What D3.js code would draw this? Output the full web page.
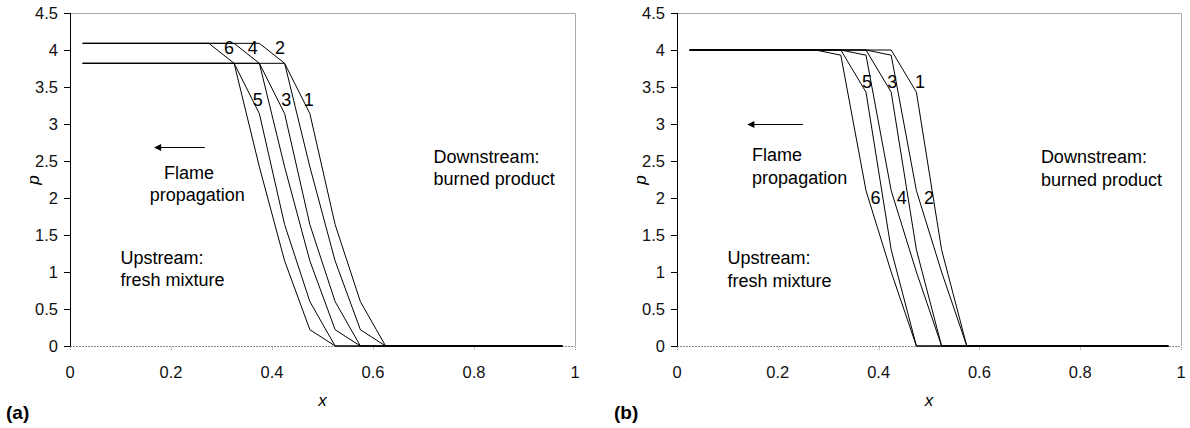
<!DOCTYPE html>
<html>
<head>
<meta charset="utf-8">
<script src="https://cdn.jsdelivr.net/npm/d3@7"></script>
<style>
  body { margin: 0; background: #fff; }
  svg { display: block; font-family: "Liberation Sans", Arial, sans-serif; }
</style>
</head>
<body>
<svg id="chart" width="1190" height="428"></svg>
<script>
const xTicks = [0, 0.2, 0.4, 0.6, 0.8, 1];
const yTicks = [0, 0.5, 1, 1.5, 2, 2.5, 3, 3.5, 4, 4.5];

// (a) pressure profiles, [x, p] at the kinks
const a1 = [[0.025, 3.82], [0.425, 3.82], [0.475, 3.14], [0.525, 1.64], [0.575, 0.60], [0.625, 0], [0.975, 0]];
const a2 = [[0.025, 4.09], [0.375, 4.09], [0.425, 3.82], [0.475, 2.42], [0.525, 1.15], [0.575, 0.22], [0.625, 0], [0.975, 0]];
const a3 = [[0.025, 3.82], [0.375, 3.82], [0.425, 3.14], [0.475, 1.64], [0.525, 0.60], [0.575, 0], [0.975, 0]];
const a4 = [[0.025, 4.09], [0.325, 4.09], [0.375, 3.82], [0.425, 2.42], [0.475, 1.15], [0.525, 0.22], [0.575, 0], [0.975, 0]];
const a5 = [[0.025, 3.82], [0.325, 3.82], [0.375, 3.14], [0.425, 1.64], [0.475, 0.60], [0.525, 0], [0.975, 0]];
const a6 = [[0.025, 4.09], [0.275, 4.09], [0.325, 3.82], [0.375, 2.42], [0.425, 1.15], [0.475, 0.22], [0.525, 0], [0.975, 0]];

// (b)
const b1 = [[0.025, 4], [0.425, 4], [0.475, 3.43], [0.525, 1.3], [0.575, 0], [0.975, 0]];
const b2 = [[0.025, 4], [0.375, 4], [0.425, 3.93], [0.475, 2.1], [0.525, 1.0], [0.575, 0], [0.975, 0]];
const b3 = [[0.025, 4], [0.375, 4], [0.425, 3.43], [0.475, 1.3], [0.525, 0], [0.975, 0]];
const b4 = [[0.025, 4], [0.325, 4], [0.375, 3.93], [0.425, 2.1], [0.475, 1.0], [0.525, 0], [0.975, 0]];
const b5 = [[0.025, 4], [0.325, 4], [0.375, 3.43], [0.425, 1.3], [0.475, 0], [0.975, 0]];
const b6 = [[0.025, 4], [0.275, 4], [0.325, 3.93], [0.375, 2.1], [0.425, 1.0], [0.475, 0], [0.975, 0]];

// curve numbers: [text, x, p]
const labelsA = [["6", 0.315, 4.03], ["4", 0.362, 4.03], ["2", 0.416, 4.03],
                 ["5", 0.372, 3.32], ["3", 0.428, 3.32], ["1", 0.473, 3.32]];
const labelsB = [["5", 0.377, 3.57], ["3", 0.427, 3.57], ["1", 0.482, 3.57],
                 ["6", 0.394, 2.0], ["4", 0.446, 2.0], ["2", 0.5, 2.0]];

// annotations: [text, x, p]
const notesA = [["Flame", 0.186, 2.34], ["propagation", 0.158, 2.04],
                ["Downstream:", 0.72, 2.55], ["burned product", 0.72, 2.26],
                ["Upstream:", 0.1, 1.19], ["fresh mixture", 0.1, 0.89]];
const notesB = [["Flame", 0.149, 2.58], ["propagation", 0.149, 2.27],
                ["Downstream:", 0.722, 2.55], ["burned product", 0.722, 2.24],
                ["Upstream:", 0.1, 1.19], ["fresh mixture", 0.1, 0.88]];
const arrowA = [0.267, 0.168, 2.69];
const arrowB = [0.25, 0.141, 3.0];

const svg = d3.select('#chart');

svg.append('defs').append('marker')
  .attr('id', 'head')
  .attr('viewBox', '0 0 10 10')
  .attr('refX', 9).attr('refY', 5)
  .attr('markerWidth', 9).attr('markerHeight', 7)
  .attr('markerUnits', 'userSpaceOnUse')
  .attr('orient', 'auto')
  .append('path')
  .attr('d', 'M0,0L10,5L0,10z')
  .attr('fill', '#000');

function drawPanel(x0, x1, curves, labels, notes, arrow, tag, tagX) {
  const x = d3.scaleLinear().domain([0, 1]).range([x0, x1]);
  const y = d3.scaleLinear().domain([0, 4.5]).range([346, 13]);
  const g = svg.append('g');

  // plot frame (top / right), light grey
  g.append('path')
    .attr('d', `M${x0 + 0.5},13.5H${x1 + 0.5}V346`)
    .attr('fill', 'none')
    .attr('stroke', '#a8a8a8');

  // dotted x axis at p = 0
  g.append('line')
    .attr('x1', x0).attr('x2', x1)
    .attr('y1', 346.5).attr('y2', 346.5)
    .attr('stroke', '#8a8a8a')
    .attr('stroke-dasharray', '2,1');

  g.selectAll('.xt')
    .data(xTicks)
    .join('line')
    .attr('x1', d => Math.round(x(d)) + 0.5).attr('x2', d => Math.round(x(d)) + 0.5)
    .attr('y1', 347).attr('y2', 350)
    .attr('stroke', '#999')
    .attr('stroke-dasharray', '1,1');

  g.selectAll('.xl')
    .data(xTicks)
    .join('text')
    .attr('x', d => x(d))
    .attr('y', 378)
    .attr('text-anchor', 'middle')
    .attr('font-size', 16.5)
    .attr('fill', '#111')
    .text(d3.format('~g'));

  // y axis
  const yAxis = g.append('g')
    .attr('transform', `translate(${x0},0)`)
    .call(d3.axisLeft(y).tickValues(yTicks).tickFormat(d3.format('~g')).tickSize(6).tickPadding(6));
  yAxis.select('.domain').attr('stroke', '#000').attr('d', 'M0.5,13V346.5');
  yAxis.selectAll('.tick line').attr('stroke', '#000');
  yAxis.selectAll('.tick text')
    .attr('font-size', 16.5)
    .attr('font-family', '"Liberation Sans", Arial, sans-serif')
    .attr('fill', '#111');

  // profiles
  const line = d3.line().x(d => x(d[0])).y(d => y(d[1]));
  g.selectAll('.curve')
    .data(curves)
    .join('path')
    .attr('d', line)
    .attr('fill', 'none')
    .attr('stroke', '#000')
    .attr('stroke-width', 1);

  g.selectAll('.num')
    .data(labels)
    .join('text')
    .attr('x', d => x(d[1]))
    .attr('y', d => y(d[2]))
    .attr('text-anchor', 'middle')
    .attr('dominant-baseline', 'central')
    .attr('font-size', 18)
    .text(d => d[0]);

  g.selectAll('.note')
    .data(notes)
    .join('text')
    .attr('x', d => x(d[1]))
    .attr('y', d => y(d[2]))
    .attr('dominant-baseline', 'central')
    .attr('font-size', 18)
    .text(d => d[0]);

  g.append('line')
    .attr('x1', x(arrow[0])).attr('x2', x(arrow[1]))
    .attr('y1', Math.round(y(arrow[2])) + 0.5).attr('y2', Math.round(y(arrow[2])) + 0.5)
    .attr('stroke', '#000')
    .attr('marker-end', 'url(#head)');

  // axis titles
  g.append('text')
    .attr('x', (x0 + x1) / 2).attr('y', 400)
    .attr('text-anchor', 'middle')
    .attr('dominant-baseline', 'central')
    .attr('font-size', 17)
    .attr('font-style', 'italic')
    .text('x');
  g.append('text')
    .attr('transform', `translate(${x0 - 37},180) rotate(-90)`)
    .attr('text-anchor', 'middle')
    .attr('dominant-baseline', 'central')
    .attr('font-size', 17)
    .attr('font-style', 'italic')
    .text('p');

  g.append('text')
    .attr('x', tagX).attr('y', 419)
    .attr('font-size', 19)
    .attr('font-weight', 'bold')
    .text(tag);
}

drawPanel(70, 575, [a1, a2, a3, a4, a5, a6], labelsA, notesA, arrowA, '(a)', 6);
drawPanel(677, 1181, [b1, b2, b3, b4, b5, b6], labelsB, notesB, arrowB, '(b)', 614);
</script>
</body>
</html>
